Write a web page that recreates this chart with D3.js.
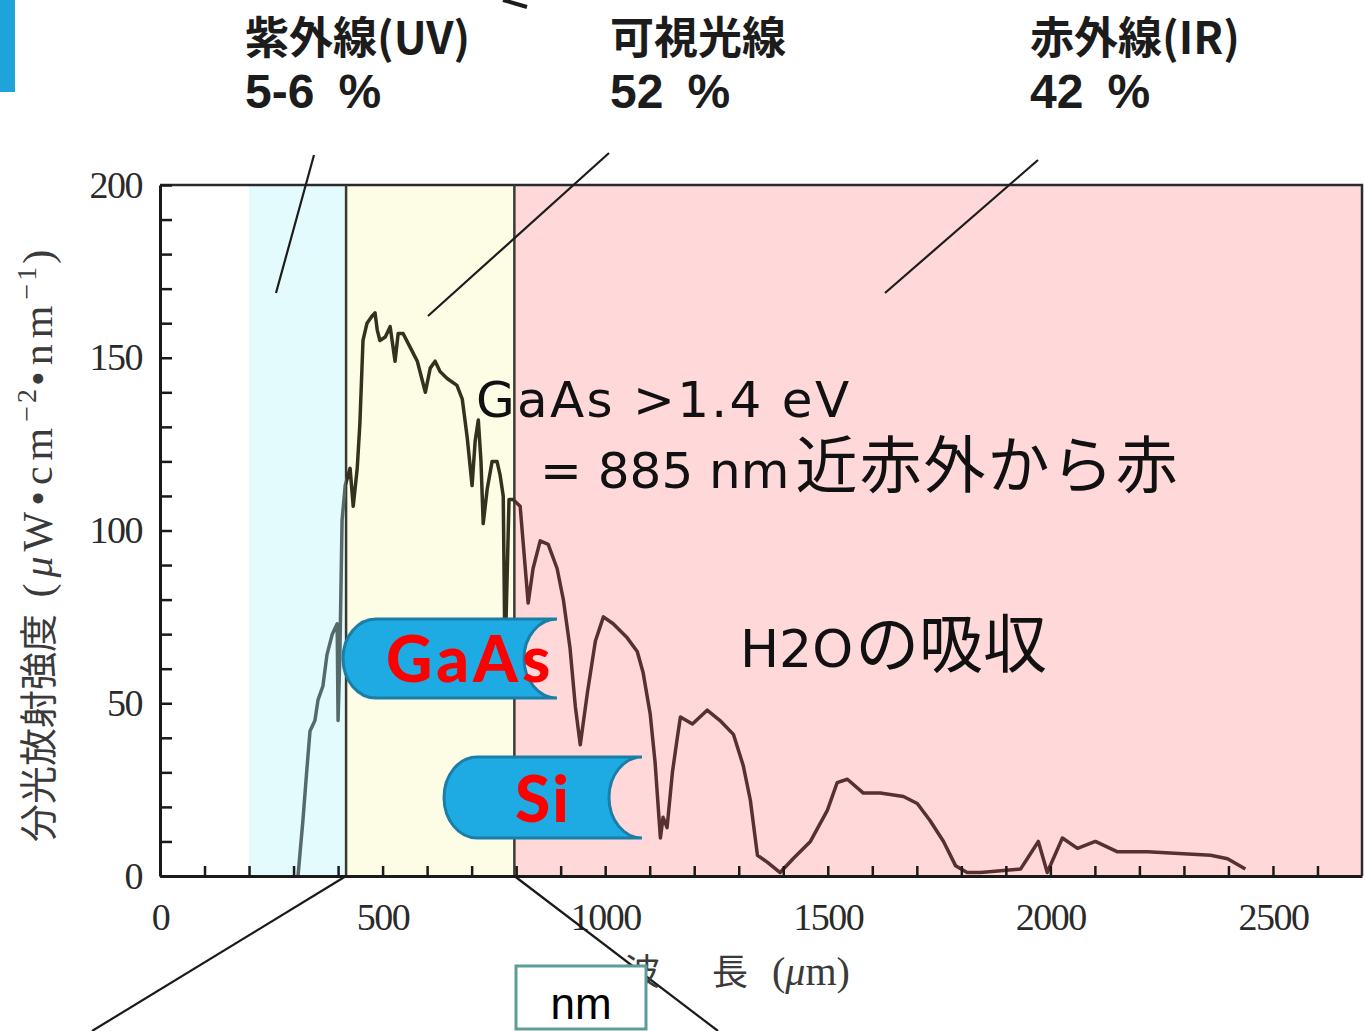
<!DOCTYPE html>
<html>
<head>
<meta charset="utf-8">
<script src="https://cdn.jsdelivr.net/npm/d3@7"></script>
<style>
  html, body { margin: 0; padding: 0; background: #ffffff; }
  svg { display: block; }
</style>
</head>
<body>
<svg id="chart" width="1365" height="1031"></svg>
<script>
// Solar spectral irradiance at ground level (wavelength in nm, irradiance in µW·cm⁻²·nm⁻¹)
const wavelengths = [
  310, 321, 330, 337, 348, 355, 366, 375, 387, 398,
  400, 404, 409, 416, 427, 434, 443, 449, 456, 465,
  476, 483, 488, 494, 506, 517, 528, 535, 546, 562,
  578, 596, 607, 618, 629, 645, 667, 679, 690, 701,
  708, 715, 721, 726, 735, 746, 757, 764, 771, 775,
  784, 793, 809, 827, 838, 854, 872, 892, 906, 921,
  933, 944, 960, 978, 996, 1018, 1049, 1072, 1085, 1101,
  1112, 1124, 1130, 1139, 1151, 1162, 1169, 1196, 1229, 1258,
  1288, 1310, 1326, 1342, 1364, 1393, 1422, 1461, 1499, 1521,
  1544, 1580, 1618, 1670, 1701, 1730, 1760, 1787, 1813, 1843,
  1933, 1948, 1973, 1993, 2027, 2061, 2101, 2151, 2218, 2360,
  2398, 2438
];
const irradiance = [
  0, 16, 31, 42, 45, 51, 55, 64, 70, 73,
  45, 64, 103, 113, 118, 107, 118, 131, 155, 160,
  162, 163, 158, 155, 156, 159, 149, 157, 157, 153,
  149, 140, 147, 149, 146, 144, 142, 138, 127, 113,
  126, 132, 120, 102, 112, 120, 120, 116, 110, 62,
  109, 109, 107, 79, 89, 97, 96, 89, 80, 66,
  49, 38, 53, 68, 75, 73, 69, 65, 59, 47,
  33, 11, 17, 14, 30, 40, 46, 44, 48, 45,
  41, 32, 22, 6, 4, 1, 5, 10, 19, 27,
  28, 24, 24, 23, 21, 16, 10, 3, 1, 1,
  2, 5, 10, 1, 11, 8, 10, 7, 7, 6,
  5, 2
];

// Spectral bands: names, energy share, and wavelength edges (nm)
const bandNames  = ["紫外線(UV)", "可視光線", "赤外線(IR)"];
const bandShares = ["5-6\u2002%", "52\u2002%", "42\u2002%"];
const bandStarts = [200, 418, 796];
const bandEnds   = [418, 796, 2700];

// Axis ticks
const xMinorTicks = d3.range(0, 2700, 100);
const xTickLabels = [0, 500, 1000, 1500, 2000, 2500];
const yMinorTicks = d3.range(0, 201, 10);
const yTickLabels = [0, 50, 100, 150, 200];

// Solar cell materials and annotation texts
const cellNames = ["GaAs", "Si"];
const noteLines = ["GaAs >1.4 eV", "= 885 nm", "近赤外から赤", "H2O", "の吸収"];

const svg = d3.select("#chart");
const W = 1365, H = 1031;
const plot = { left: 160, right: 1362, top: 185, bottom: 876 };

const x = d3.scaleLinear().domain([0, 2700]).range([plot.left, plot.right]);
const y = d3.scaleLinear().domain([0, 200]).range([plot.bottom, plot.top]);

const serif = "'Liberation Serif', 'DejaVu Serif', 'Noto Sans CJK JP', serif";
const cjk = "'Noto Sans CJK JP', 'Noto Sans', sans-serif";
const geo = "'DejaVu Sans', 'Noto Sans CJK JP', sans-serif";
const narrow = "'Liberation Sans Narrow', 'Liberation Sans', 'Noto Sans', sans-serif";

// slide accent bar
svg.append("rect").attr("x", 0).attr("y", 0).attr("width", 15).attr("height", 92)
  .attr("fill", "#1ea4d9");

// band backgrounds
const bandFills = ["#e4fbfd", "#fdfde6", "#ffd8d9"];
svg.append("g").selectAll("rect")
  .data(bandStarts)
  .join("rect")
  .attr("x", (d) => x(d))
  .attr("y", plot.top)
  .attr("width", (d, i) => x(bandEnds[i]) - x(d))
  .attr("height", plot.bottom - plot.top)
  .attr("fill", (d, i) => bandFills[i]);

// frame: top and right edges
svg.append("path")
  .attr("d", `M${plot.left},${plot.top}H${plot.right}V${plot.bottom}`)
  .attr("fill", "none").attr("stroke", "#2a2a2a").attr("stroke-width", 2.5);

// visible band borders
svg.append("g").selectAll("line")
  .data([bandStarts[1], bandEnds[1]])
  .join("line")
  .attr("x1", (d) => x(d)).attr("x2", (d) => x(d))
  .attr("y1", plot.top).attr("y2", plot.bottom)
  .attr("stroke", "#3a3a30").attr("stroke-width", 2.5);

// spectrum curve, tinted per band
const pts = wavelengths.map((w, i) => [w, irradiance[i]]);
const line = d3.line().x((d) => x(d[0])).y((d) => y(d[1]));
const defs = svg.append("defs");
const curveTints = [
  { from: 0, to: bandStarts[1], color: "#566a6a" },
  { from: bandStarts[1], to: bandEnds[1], color: "#34321e" },
  { from: bandEnds[1], to: 2700, color: "#57302f" }
];
curveTints.forEach((t, i) => {
  defs.append("clipPath").attr("id", "clip" + i)
    .append("rect")
    .attr("x", x(t.from)).attr("y", 0)
    .attr("width", x(t.to) - x(t.from)).attr("height", H);
  svg.append("path")
    .datum(pts)
    .attr("clip-path", `url(#clip${i})`)
    .attr("d", line)
    .attr("fill", "none")
    .attr("stroke", t.color)
    .attr("stroke-width", 3.5)
    .attr("stroke-linejoin", "round");
});

// axes
const yAxis = d3.axisLeft(y)
  .tickValues(yMinorTicks)
  .tickSize(-12)
  .tickSizeOuter(0)
  .tickPadding(18)
  .tickFormat((d) => (yTickLabels.includes(d) ? d : ""));
const gy = svg.append("g").attr("transform", `translate(${plot.left},0)`).call(yAxis);

const xAxis = d3.axisBottom(x)
  .tickValues(xMinorTicks)
  .tickSize(-10)
  .tickSizeOuter(0)
  .tickPadding(27)
  .tickFormat((d) => (xTickLabels.includes(d) ? d : ""));
const gx = svg.append("g").attr("transform", `translate(0,${plot.bottom})`).call(xAxis);

[gx, gy].forEach((g) => {
  g.select(".domain").attr("stroke", "#1a1a1a").attr("stroke-width", 3);
  g.selectAll(".tick line").attr("stroke", "#1a1a1a").attr("stroke-width", 2.5);
  g.selectAll(".tick text")
    .attr("font-family", serif)
    .attr("font-size", 38)
    .attr("fill", "#2a2a2a")
    .attr("letter-spacing", -1.5);
});

// y-axis title
const yTitle = svg.append("text")
  .attr("transform", "translate(52,842) rotate(-90)")
  .attr("text-anchor", "start")
  .attr("fill", "#3a3a3a");
yTitle.append("tspan").attr("font-family", cjk).attr("font-size", 38).text("分光放射強度");
yTitle.append("tspan").attr("font-family", serif).attr("font-size", 42).attr("letter-spacing", 6).text(" (");
yTitle.append("tspan").attr("font-family", serif).attr("font-size", 42).attr("font-style", "italic").attr("letter-spacing", 5).text("μ");
yTitle.append("tspan").attr("font-family", serif).attr("font-size", 42).attr("letter-spacing", 6).text("W•cm");
yTitle.append("tspan").attr("font-family", serif).attr("font-size", 28).attr("dy", -16).attr("letter-spacing", 3).text("−2");
yTitle.append("tspan").attr("font-family", serif).attr("font-size", 42).attr("dy", 16).attr("letter-spacing", 6).text("•nm");
yTitle.append("tspan").attr("font-family", serif).attr("font-size", 28).attr("dy", -16).attr("letter-spacing", 3).text("−1");
yTitle.append("tspan").attr("font-family", serif).attr("font-size", 42).attr("dy", 16).text(")");

// band headings and leader lines
const headX = [245, 610, 1030];
const leaders = [
  [[314, 155], [276, 293]],
  [[609, 153], [428, 316]],
  [[1038, 160], [885, 293]]
];
bandNames.forEach((name, i) => {
  svg.append("text")
    .attr("x", headX[i]).attr("y", 54)
    .attr("font-family", cjk).attr("font-weight", 700).attr("font-size", 44)
    .attr("fill", "#1c1c1c")
    .text(name);
  svg.append("text")
    .attr("x", headX[i]).attr("y", 108)
    .attr("font-family", narrow).attr("font-weight", 700).attr("font-size", 48)
    .attr("fill", "#1c1c1c")
    .text(bandShares[i]);
  svg.append("path")
    .attr("d", d3.line()(leaders[i]))
    .attr("stroke", "#1c1c1c").attr("stroke-width", 2.2).attr("fill", "none");
});
// arrow stub at the top edge
svg.append("path").attr("d", "M503,0L527,7")
  .attr("stroke", "#1c1c1c").attr("stroke-width", 4).attr("fill", "none");

// annotation texts
svg.append("text").attr("x", 476).attr("y", 417)
  .attr("font-family", geo).attr("font-size", 50).attr("letter-spacing", 2.3).attr("fill", "#111")
  .text(noteLines[0]);
const t2 = svg.append("text").attr("x", 540).attr("y", 488).attr("fill", "#111");
t2.append("tspan").attr("font-family", geo).attr("font-size", 50).text(noteLines[1]);
t2.append("tspan").attr("font-family", cjk).attr("font-size", 62).attr("dx", 6).attr("letter-spacing", 2).text(noteLines[2]);
const t3 = svg.append("text").attr("x", 740).attr("y", 667).attr("fill", "#111");
t3.append("tspan").attr("font-family", geo).attr("font-size", 52).text(noteLines[3]);
t3.append("tspan").attr("font-family", cjk).attr("font-size", 64).attr("dx", 2).text(noteLines[4]);

// solar-cell badges: rounded left end, concave right end
function badgePath(x0, x1, top, bot, rx) {
  const ry = (bot - top) / 2;
  return `M${x0 + rx},${top}L${x1},${top}A${rx},${ry} 0 0 0 ${x1},${bot}` +
         `L${x0 + rx},${bot}A${rx},${ry} 0 0 1 ${x0 + rx},${top}Z`;
}
const badges = [
  { x0: 343, x1: 557, top: 619, bot: 698, rx: 33, tx: 386, ty: 682, size: 64, ls: 4 },
  { x0: 444, x1: 642, top: 757, bot: 838, rx: 33, tx: 515, ty: 822, size: 64, ls: 2 }
];
badges.forEach((b, i) => {
  svg.append("path")
    .attr("d", badgePath(b.x0, b.x1, b.top, b.bot, b.rx))
    .attr("fill", "#1eaae2").attr("stroke", "#1a7ea6").attr("stroke-width", 3);
  svg.append("text")
    .attr("x", b.tx).attr("y", b.ty)
    .attr("font-family", "'Lato', 'DejaVu Sans', sans-serif")
    .attr("font-weight", 900).attr("font-size", b.size)
    .attr("letter-spacing", b.ls)
    .attr("fill", "#ff0000")
    .text(cellNames[i]);
});

// zoom guide lines from the visible band down to the unit box
svg.append("path").attr("d", `M${x(bandStarts[1])},${plot.bottom}L92,${H}`)
  .attr("stroke", "#1a1a1a").attr("stroke-width", 2.2).attr("fill", "none");
svg.append("path").attr("d", `M${x(bandEnds[1])},${plot.bottom}L718,${H}`)
  .attr("stroke", "#1a1a1a").attr("stroke-width", 2.2).attr("fill", "none");

// x-axis title
const xTitle = svg.append("text").attr("y", 985).attr("fill", "#3a3a3a")
  .attr("font-size", 36);
xTitle.append("tspan").attr("x", 624).attr("font-family", cjk).text("波");
xTitle.append("tspan").attr("x", 712).attr("font-family", cjk).text("長");
xTitle.append("tspan").attr("x", 772).attr("font-family", serif).attr("font-size", 40).text("(");
xTitle.append("tspan").attr("font-family", serif).attr("font-size", 40).attr("font-style", "italic").text("μ");
xTitle.append("tspan").attr("font-family", serif).attr("font-size", 40).text("m)");

// unit box
svg.append("rect").attr("x", 516).attr("y", 966).attr("width", 130).attr("height", 63)
  .attr("fill", "#ffffff").attr("stroke", "#5e9c98").attr("stroke-width", 3);
svg.append("text").attr("x", 581).attr("y", 1019).attr("text-anchor", "middle")
  .attr("font-family", "'Liberation Sans', 'Noto Sans', sans-serif").attr("font-size", 44)
  .attr("fill", "#000").text("nm");
</script>
</body>
</html>
